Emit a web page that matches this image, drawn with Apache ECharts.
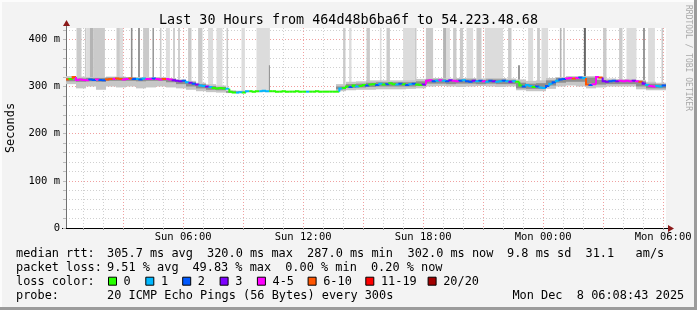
<!DOCTYPE html>
<html><head><meta charset="utf-8">
<script src="https://cdn.jsdelivr.net/npm/echarts@6/dist/echarts.min.js"></script>
<style>html,body{margin:0;padding:0;background:#f3f3f3;}#c{width:697px;height:310px;}</style>
</head><body><div id="c"></div>
<script>
// ---------- DATA ----------
const titleText = 'Last 30 Hours from 464d48b6ba6f to 54.223.48.68';
const startHour = 0.1453;   // Sun 00:08:43, hours since Sun 00:00
const endHour = 30.1453;    // Mon 06:08:43
const stepHours = 1 / 6;    // 10 min steps for median
const blockHours = 0.5;     // 30 min blocks for smoke
const yMax = 424;
const hourTicks = [1,2,3,4,5,6,7,8,9,10,11,12,13,14,15,16,17,18,19,20,21,22,23,24,25,26,27,28,29,30];
const xLabelHours = [6, 12, 18, 24, 30];
const xLabelTexts = ['Sun 06:00', 'Sun 12:00', 'Sun 18:00', 'Mon 00:00', 'Mon 06:00'];
const yLabelValues = [0, 100, 200, 300, 400];
const yLabelTexts = ['0', '100 m', '200 m', '300 m', '400 m'];

const medianRtt = [
  315,316,320,314,315,314,313,315,314,315,314,313,315,
  316,316,317,316,315,316,317,316,316,315,317,316,316,317,316,315,316,316,315,
  313,312,311,312, 309,308,306, 304,302,301, 300,299, 297,296,297,296,295,
  289,287,287, 288,287, 290,290,289,
  290,290,291,290,290,290,289,289,290,289,289,289,290,289,289,289,289,289,290,289,289,289,289,289,289,
  296,297, 300,299,302,300,301,303,302,
  304,305,303,306,304,305,307,305,304,306,305,303,305,306,304,303,304,
  312,313,311,312,313,312,311,313,312,311,312,313,311,310,312,311,312,311,310,312,311,310,311,312,311,310,311,310,
  302,300,303,301,299,300,298,297, 301,306,309,312,315,
  316,317,318,317,318,319,318, 304,303,305,320,319,
  311,310,311,312,311,312,311,312,311,312,311,310,
  306,303,301,300,301,300,302
];
const lossBucket = [
  5,0,5,4, 4,4,4,2,2,4, 2,2,5,5,4,5, 5,4,4,5,2,1, 2,1,4,4,2,4, 4,5,4,4,
  3,3,3,2, 1,3,2, 3,1,1,3,1, 0,0,0,0,1, 0,0,1,1,0,1,0,0,
  0,1,1,1,0,0,0,0,0,0,0,0,0,0,0,1,0,0,0,0,0,0,0,0,0,
  1,0,0,2,0,1,0,0,2,
  0,0,2,1,0,2,0,0,1,2,0,2,1,2,0,0,3,
  4,4,2,1,4,1,2,3,4,4,2,1,2,2,3,1,2,4,1,2,3,1,1,2,1,3,1,0,
  0,2,1,1,0,2,1,1, 2,1,2,1,2,
  2,4,4,5,4,2,1,5,2,4,4,5,
  3,3,2,2,3,4,4,4,4,3,4,5,
  3,1,4,4,1,1,2
];
const smokeLightLo = [305,296,300,293,300,298,300,296,298,300,298,296,293,290,288,287,286,
  288,288,288,288,288,288,288,288,288,288,
  290,292,293,293,294,294,294,295,296,
  300,301,300,299,300,301,300,299,300,
  292,290,290,295,300,302,300,296,298,300,300,300,294,292,292];
const smokeLightHi = [322,321,320,320,321,321,320,320,320,320,318,315,312,308,305,302,292,
  291,291,291,291,291,291,291,291,291,291,
  305,310,311,313,313,313,313,313,316,
  318,318,317,318,318,317,318,318,317,
  315,312,313,318,320,322,322,322,320,317,316,316,314,310,308];
const smokeDarkLo = [311,310,311,310,312,312,312,311,312,312,309,305,300,296,293,292,287,
  289,289,289,289,289,289,289,289,289,289,
  294,297,298,299,300,300,300,300,301,
  306,306,305,306,306,305,306,305,305,
  296,295,295,302,308,310,310,306,304,305,305,305,300,296,296];
const smokeDarkHi = [318,317,318,318,319,319,319,318,318,318,316,313,309,305,301,299,290,
  290,290,290,290,290,290,290,290,290,290,
  300,305,306,308,309,309,309,309,311,
  315,315,314,315,315,314,315,315,314,
  308,306,307,313,318,319,319,319,314,313,313,313,311,306,305];
// [startHour, endHour, base, top, shade]
const spikes = [
  [0.67,0.92,316,424,1],[1.09,1.17,316,424,1],[1.17,1.34,316,424,0],[1.34,1.50,316,424,2],
  [1.50,2.09,316,424,1],[2.67,2.84,316,424,1],[2.84,3.00,316,424,0],[3.39,3.47,316,424,3],
  [3.75,3.84,316,424,3],[4.00,4.30,316,424,1],[4.47,4.54,316,424,3],[4.84,4.92,316,424,1],
  [5.14,5.34,316,424,0],[5.50,5.59,316,424,1],[5.75,5.84,315,424,1],[6.25,6.42,310,424,1],
  [6.75,6.97,304,424,1],[7.25,7.50,300,424,0],[7.67,7.97,297,424,0],[8.17,8.25,296,424,1],
  [8.92,9.09,290,424,0],[9.67,10.34,290,424,0],[10.29,10.34,290,345,3],
  [14.00,14.12,302,424,1],[14.30,14.42,302,424,0],[15.17,15.34,305,424,1],[15.84,15.92,306,424,0],
  [16.17,16.34,306,424,1],[17.00,17.59,306,424,0],[17.59,17.67,306,424,1],[18.14,18.50,312,424,1],
  [19.00,19.17,312,424,2],[19.17,19.34,312,424,0],[19.50,19.67,312,424,1],[19.84,20.00,312,424,1],
  [20.17,20.50,312,424,0],[20.67,20.92,312,424,1],[21.09,22.00,312,424,0],[22.25,22.42,311,424,1],
  [22.75,22.84,300,345,3],[23.25,23.50,300,424,0],[23.70,23.84,300,424,1],[23.92,24.25,305,424,0],
  [24.84,24.92,316,424,2],[25.00,25.09,317,424,1],[26.04,26.14,318,424,4],[27.00,27.17,311,424,1],
  [27.80,27.97,311,424,1],[28.17,28.67,311,424,0],[29.00,29.09,303,424,3],[29.25,29.59,300,424,0],
  [29.92,30.00,302,424,1]
];
const lossLabels = ['0','1','2','3','4-5','6-10','11-19','20/20'];
const lossColors = ['#26ff00','#00b8ff','#0059ff','#7e00ff','#ff00ff','#ff5500','#ff0000','#a10000'];
const spikeShades = ['#dcdcdc','#cacaca','#b4b4b4','#8e8e8e','#666666'];
const statsRtt = ['median rtt:', '305.7 ms avg', '320.0 ms max', '287.0 ms min', '302.0 ms now', '9.8 ms sd', '31.1', 'am/s'];
const statsLoss = ['packet loss:', '9.51 % avg', '49.83 % max', '0.00 % min', '0.20 % now'];
const probeText = ['probe:', '20 ICMP Echo Pings (56 Bytes) every 300s', 'Mon Dec  8 06:08:43 2025'];

// ---------- LAYOUT / STYLE ----------
const MONO = '"DejaVu Sans Mono", monospace';
const G = {left: 66, top: 28, width: 600, height: 200};
const rttX = [16, 107, 207, 307, 407.5, 507, 585.5, 635.6];
const lossX = [16, 107, 192.4, 285.2, 370.9];
const boxX = [108, 145.3, 182.2, 219.6, 256.9, 307.6, 365.3, 427.6];
const probeX = [16, 107, 512.4];
const rowY = [253.7, 267.7, 281.7, 295.5];
const LEG_FONT = '11.9px ' + MONO;

const medianData = medianRtt.map((v, i) => {
  const h0 = startHour + i * stepHours;
  return [h0, h0 + stepHours, v, i > 0 ? medianRtt[i - 1] : v, lossBucket[i]];
});
const lightData = smokeLightLo.map((lo, j) => [startHour + j * blockHours, startHour + (j + 1) * blockHours, lo, smokeLightHi[j]]);
const darkData = smokeDarkLo.map((lo, j) => [startHour + j * blockHours, startHour + (j + 1) * blockHours, lo, smokeDarkHi[j]]);

function rectItem(api, fill) {
  const a = api.coord([api.value(0), api.value(3)]);
  const b = api.coord([api.value(1), api.value(2)]);
  return {type: 'rect', shape: {x: a[0], y: a[1], width: b[0] - a[0], height: b[1] - a[1]}, style: {fill: fill}};
}

const chart = echarts.init(document.getElementById('c'), null, {renderer: 'canvas'});

const graphics = [];
// frame
graphics.push({type: 'rect', shape: {x: 0, y: 0, width: 697, height: 2}, style: {fill: '#fcfcfc'}, silent: true});
graphics.push({type: 'rect', shape: {x: 0, y: 0, width: 2, height: 310}, style: {fill: '#fcfcfc'}, silent: true});
graphics.push({type: 'rect', shape: {x: 0, y: 307, width: 697, height: 3}, style: {fill: '#9b9b9b'}, silent: true});
graphics.push({type: 'rect', shape: {x: 694, y: 0, width: 3, height: 310}, style: {fill: '#9b9b9b'}, silent: true});
// axis arrows
const x0 = G.left, yb = G.top + G.height;
graphics.push({type: 'line', shape: {x1: x0 - 4, y1: yb + 0.5, x2: x0, y2: yb + 0.5}, style: {stroke: '#000', lineWidth: 1}});
graphics.push({type: 'line', shape: {x1: G.left + G.width, y1: yb + 0.5, x2: G.left + G.width + 3, y2: yb + 0.5}, style: {stroke: '#000', lineWidth: 1}});
graphics.push({type: 'polygon', shape: {points: [[G.left + G.width + 2, yb - 3], [G.left + G.width + 8, yb + 0.5], [G.left + G.width + 2, yb + 4]]}, style: {fill: '#8b1a1a'}});
graphics.push({type: 'line', shape: {x1: x0 + 0.5, y1: G.top, x2: x0 + 0.5, y2: G.top - 3}, style: {stroke: '#707070', lineWidth: 1}});
graphics.push({type: 'polygon', shape: {points: [[x0 - 3, G.top - 2], [x0 + 0.5, G.top - 8], [x0 + 4, G.top - 2]]}, style: {fill: '#8b1a1a'}});
// y axis name
graphics.push({type: 'text', x: 11, y: 128, rotation: Math.PI / 2, style: {text: 'Seconds', font: '11.9px ' + MONO, fill: '#000', align: 'center', verticalAlign: 'middle'}});
// watermark
graphics.push({type: 'text', x: 688, y: 5, rotation: -Math.PI / 2, style: {text: 'RRDTOOL / TOBI OETIKER', font: '8px ' + MONO, fill: '#a8a8a8', align: 'left', verticalAlign: 'middle'}});
// legend rows
statsRtt.forEach((t, i) => graphics.push({type: 'text', x: rttX[i], y: rowY[0], style: {text: t, font: LEG_FONT, fill: '#000', verticalAlign: 'middle'}}));
statsLoss.forEach((t, i) => graphics.push({type: 'text', x: lossX[i], y: rowY[1], style: {text: t, font: LEG_FONT, fill: '#000', verticalAlign: 'middle'}}));
graphics.push({type: 'text', x: 16, y: rowY[2], style: {text: 'loss color:', font: LEG_FONT, fill: '#000', verticalAlign: 'middle'}});
lossLabels.forEach((t, i) => {
  graphics.push({type: 'rect', shape: {x: boxX[i] + 0.5, y: rowY[2] - 4.5, width: 8, height: 8}, style: {fill: lossColors[i], stroke: '#000', lineWidth: 1}});
  graphics.push({type: 'text', x: boxX[i] + 15.6, y: rowY[2], style: {text: t, font: LEG_FONT, fill: '#000', verticalAlign: 'middle'}});
});
probeText.forEach((t, i) => graphics.push({type: 'text', x: probeX[i], y: rowY[3], style: {text: t, font: LEG_FONT, fill: '#000', verticalAlign: 'middle'}}));

const option = {
  animation: false,
  backgroundColor: '#f3f3f3',
  textStyle: {fontFamily: MONO},
  title: {text: titleText, left: 'center', top: 9, textStyle: {fontFamily: MONO, fontSize: 13.4, fontWeight: 'normal', color: '#000'}},
  grid: {left: G.left, top: G.top, width: G.width, height: G.height, show: true, backgroundColor: '#ffffff', borderWidth: 0},
  xAxis: {
    type: 'value', min: startHour, max: endHour,
    axisLine: {show: true, onZero: false, lineStyle: {color: '#000', width: 1}},
    axisTick: {show: true, customValues: hourTicks, length: 2, lineStyle: {color: '#999'}},
    axisLabel: {customValues: xLabelHours, formatter: v => xLabelTexts[xLabelHours.indexOf(Math.round(v))] || '', fontFamily: MONO, fontSize: 10.5, color: '#000', margin: 4},
    splitLine: {show: true, lineStyle: {color: ['#d0d0d0', '#d0d0d0', '#f0a0a0'], type: [1, 2], width: 1}}
  },
  yAxis: {
    type: 'value', min: 0, max: yMax, interval: 20,
    axisLine: {show: true, lineStyle: {color: '#707070', width: 1}},
    axisTick: {show: true, length: 3, lineStyle: {color: '#bbbbbb'}},
    axisLabel: {showMaxLabel: false, formatter: v => { const k = yLabelValues.indexOf(v); return k >= 0 ? yLabelTexts[k] : ''; }, fontFamily: MONO, fontSize: 10.5, color: '#000', margin: 6},
    splitLine: {show: true, showMaxLine: false, lineStyle: {color: ['#f0a0a0', '#d0d0d0', '#d0d0d0', '#d0d0d0', '#d0d0d0'], type: [1, 2], width: 1}}
  },
  series: [
    {type: 'custom', name: 'spikes', data: spikes, encode: {x: [0, 1], y: [2, 3]}, clip: true, silent: true,
      renderItem: (p, api) => rectItem(api, spikeShades[api.value(4)])},
    {type: 'custom', name: 'smokeLight', data: lightData, encode: {x: [0, 1], y: [2, 3]}, clip: true, silent: true,
      renderItem: (p, api) => rectItem(api, '#c6c6c6')},
    {type: 'custom', name: 'smokeDark', data: darkData, encode: {x: [0, 1], y: [2, 3]}, clip: true, silent: true,
      renderItem: (p, api) => rectItem(api, '#8e8e8e')},
    {type: 'custom', name: 'median', data: medianData, encode: {x: [0, 1], y: [2, 3]}, clip: true, silent: true,
      renderItem: (p, api) => {
        const a = api.coord([api.value(0), api.value(3)]);
        const b = api.coord([api.value(0), api.value(2)]);
        const c = api.coord([api.value(1), api.value(2)]);
        return {type: 'polyline', shape: {points: [a, b, c]}, style: {stroke: lossColors[api.value(4)], lineWidth: 2, fill: null}};
      }}
  ],
  graphic: graphics
};
chart.setOption(option);
</script></body></html>
